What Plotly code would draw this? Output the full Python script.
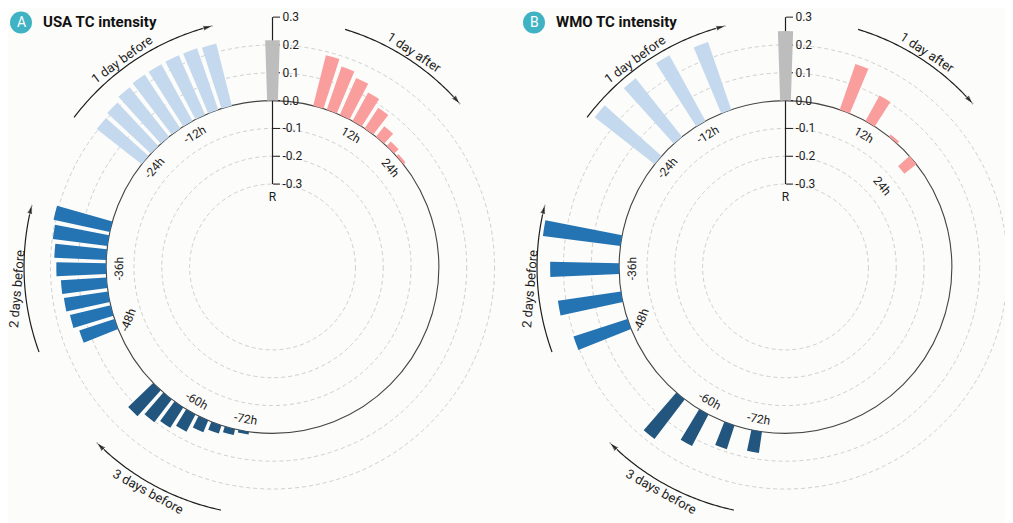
#!/usr/bin/env python3

"""
CIRCULAR BAR PLOT OF LAGGED CORRELATIONS WITH TC INTENSITY (USA & WMO)
"""

import math
from typing import Any, Dict, List

import numpy as np
import plotly.graph_objects as go


# Data

usa_hours: List[int] = [
    -72, -69, -66, -63, -60, -57, -54, -51,
    -48, -45, -42, -39, -36, -33, -30, -27,
    -24, -21, -18, -15, -12, -9, -6, -3,
    0,
    3, 6, 9, 12, 15, 18, 21, 24,
]
usa_r: List[float] = [
    0.010, 0.022, 0.031, 0.046, 0.070, 0.087, 0.103, 0.125,
    0.133, 0.150, 0.160, 0.164, 0.179, 0.187, 0.198, 0.207,
    0.205, 0.214, 0.227, 0.232, 0.233, 0.234, 0.234, 0.230,
    0.217,
    0.187, 0.164, 0.145, 0.117, 0.089, 0.048, 0.022, 0.010,
]

wmo_hours: List[int] = [
    -72, -66, -60, -54, -48, -42, -36, -30,
    -24, -18, -12, -6, 0, 6, 12, 18, 24,
]
wmo_r: List[float] = [
    0.077, 0.090, 0.128, 0.179, 0.204, 0.229, 0.248, 0.281,
    0.274, 0.268, 0.270, 0.257, 0.250, 0.174, 0.105, 0.010, -0.055,
]

label_hours: List[int] = [-72, -60, -48, -36, -24, -12, 12, 24]
tick_vals: List[float] = [-0.3, -0.2, -0.1, 0.0, 0.1, 0.2, 0.3]
tick_text: List[str] = ["-0.3", "-0.2", "-0.1", "0.0", "0.1", "0.2", "0.3"]
grid_vals: List[float] = [-0.3, -0.2, -0.1, 0.1, 0.2]

arc_names: List[str] = ["1 day before", "1 day after", "2 days before", "3 days before"]
arc_from: List[float] = [-53, 17, -110, -168]
arc_to: List[float] = [-14, 49, -75.5, -135]
arc_text_at: List[float] = [-36, 33.5, -95, -151]


# Look & geometry (positions in page pixels)

W, H = 1013, 523
OFF = 8.0  # the page body margin shifts the figure by this much
CY = 267.0  # centre of both panels, from top
RADIUS = 250.0  # outer edge (R = 0.3)
RMIN, RMAX = -0.598, 0.3005
PX = RADIUS / (RMAX - RMIN)

BG = "#fcfcfa"
INK = "#1e1e1e"
GRAY = "#bdbdbd"
PINK = "#f99d9d"
LIGHT = "#c4d9ee"
BLUE = "#2474b4"
NAVY = "#23567f"
TEAL = "#3fb3c3"
FONT = "Roboto"


def hour_theta(h: int) -> float:
    """Angular position (deg, clockwise from top) of a lag in hours."""
    k = abs(h) // 3
    if k == 0:
        return 0.0
    g, i = divmod(k - 1, 8)
    phi = 16 + 60 * g + 4.86 * i
    return phi if h > 0 else -phi


def bar_color(h: int) -> str:
    if h == 0:
        return GRAY
    if h > 0:
        return PINK
    if h >= -24:
        return LIGHT
    if h >= -48:
        return BLUE
    return NAVY


def text_angle(theta: float) -> float:
    phi = abs(theta)
    if theta >= 0:
        return phi
    if phi <= 90:
        return -phi
    if phi < 125:
        return phi - 180
    return 180 - phi


def px_x(xp: float) -> float:
    return (xp - OFF) / W


def px_y(yp: float) -> float:
    return 1 - (yp - OFF) / H


def to_paper(cx: float, r: float, theta: float):
    rp = (r - RMIN) * PX
    a = math.radians(theta)
    return px_x(cx + rp * math.sin(a)), px_y(CY - rp * math.cos(a))


def add_panel(fig, shapes, annotations, name, cx, hours, values, title, badge, sector):
    subplot = name

    fig.add_trace(
        go.Barpolar(
            r=values,
            theta=[hour_theta(h) for h in hours],
            base=0,
            width=3.7,
            marker=dict(color=[bar_color(h) for h in hours], line=dict(width=0)),
            subplot=subplot,
            showlegend=False,
            hoverinfo="skip",
        )
    )

    fig.add_trace(
        go.Scatterpolar(
            r=[-0.35],
            theta=[0],
            mode="text",
            text=["R"],
            textfont=dict(size=12, color=INK, family=FONT),
            subplot=subplot,
            showlegend=False,
            hoverinfo="skip",
        )
    )

    # arrows around the circle
    for label, t0, t1, tt in zip(arc_names, arc_from, arc_to, arc_text_at):
        th = np.linspace(t0, t1, 60)
        sizes = [0] * (len(th) - 1) + [10]
        fig.add_trace(
            go.Scatterpolar(
                r=[0.295] * len(th),
                theta=th,
                mode="lines+markers",
                line=dict(color=INK, width=1.2),
                marker=dict(symbol="arrow", size=sizes, color=INK, angleref="previous"),
                subplot=subplot,
                showlegend=False,
                hoverinfo="skip",
            )
        )
        x, y = to_paper(cx, 0.325, tt)
        annotations.append(
            dict(
                x=x, y=y, xref="paper", yref="paper", text=label, showarrow=False,
                textangle=text_angle(tt), font=dict(size=13, color=INK, family=FONT),
                xanchor="center", yanchor="middle",
            )
        )

    # hour labels
    for h in label_hours:
        v = values[hours.index(h)]
        lab_r = -0.045 if v >= 0 else v - 0.09
        th = hour_theta(h)
        x, y = to_paper(cx, lab_r, th)
        annotations.append(
            dict(
                x=x, y=y, xref="paper", yref="paper", text=f"{h}h", showarrow=False,
                textangle=text_angle(th), font=dict(size=12, color=INK, family=FONT),
                xanchor="center", yanchor="middle",
            )
        )

    # grid circles
    for gv in grid_vals + [0.0]:
        rp = (gv - RMIN) * PX
        solid = gv == 0.0
        shapes.append(
            dict(
                type="circle", xref="paper", yref="paper", layer="below",
                x0=px_x(cx - rp), x1=px_x(cx + rp),
                y0=px_y(CY + rp), y1=px_y(CY - rp),
                line=dict(
                    color="#444444" if solid else "#cfcfcf",
                    width=1.1 if solid else 1,
                    dash="solid" if solid else "4px,3px",
                ),
            )
        )

    # radial axis line from -0.3 to 0.3, under the bars
    shapes.append(
        dict(
            type="line", xref="paper", yref="paper", layer="below",
            x0=px_x(cx), x1=px_x(cx),
            y0=px_y(CY - (tick_vals[0] - RMIN) * PX),
            y1=px_y(CY - (tick_vals[-1] - RMIN) * PX),
            line=dict(color=INK, width=1.2),
        )
    )

    # panel badge & title
    bx, by, br = cx - 251.5, 22.5, 11
    shapes.append(
        dict(
            type="circle", xref="paper", yref="paper", layer="above",
            x0=px_x(bx - br), x1=px_x(bx + br), y0=px_y(by + br), y1=px_y(by - br),
            fillcolor=TEAL, line=dict(width=0),
        )
    )
    annotations.append(
        dict(
            x=px_x(bx), y=px_y(by), xref="paper", yref="paper", text=badge, showarrow=False,
            font=dict(size=14, color="white", family=FONT), xanchor="center", yanchor="middle",
        )
    )
    annotations.append(
        dict(
            x=px_x(bx + 20), y=px_y(by), xref="paper", yref="paper",
            text=f"<b>{title}</b>", showarrow=False,
            font=dict(size=15, color="#111111", family=FONT), xanchor="left", yanchor="middle",
        )
    )

    # polar layout, fitted so that the centre and outer radius land where wanted
    x_lo = math.cos(math.radians(sector[0])) if sector[0] > 0 else 1.0
    dom_x = [px_x(cx - RADIUS), px_x(cx + RADIUS * x_lo)]
    dom_y = [px_y(CY + RADIUS), px_y(CY - RADIUS)]
    polar: Dict[str, Any] = dict(
        domain=dict(x=dom_x, y=dom_y),
        sector=sector,
        bgcolor="rgba(0,0,0,0)",
        radialaxis=dict(
            range=[RMIN, RMAX],
            angle=90,
            side="clockwise",
            tickangle=90,
            tickvals=tick_vals,
            ticktext=tick_text,
            ticks="outside",
            ticklen=7,
            tickwidth=1.2,
            tickcolor=INK,
            showline=False,
            showgrid=False,
            layer="below traces",
            tickfont=dict(size=12, color=INK, family=FONT),
        ),
        angularaxis=dict(
            rotation=90,
            direction="clockwise",
            showline=False,
            showgrid=False,
            ticks="",
            showticklabels=False,
        ),
    )
    return polar


def main() -> None:
    fig = go.Figure()
    shapes: List[Dict[str, Any]] = []
    annotations: List[Dict[str, Any]] = []

    polar1 = add_panel(
        fig, shapes, annotations, "polar", 272.5, usa_hours, usa_r,
        "USA TC intensity", "A", [0, 360],
    )
    polar2 = add_panel(
        fig, shapes, annotations, "polar2", 785.5, wmo_hours, wmo_r,
        "WMO TC intensity", "B", [30, 330],
    )

    fig.update_layout(
        width=W,
        height=H,
        margin=dict(l=0, r=0, t=0, b=0),
        paper_bgcolor=BG,
        plot_bgcolor=BG,
        font=dict(family=FONT, color=INK),
        polar=polar1,
        polar2=polar2,
        shapes=shapes,
        annotations=annotations,
        showlegend=False,
    )

    fig.write_html("out.html")


if __name__ == "__main__":
    main()
